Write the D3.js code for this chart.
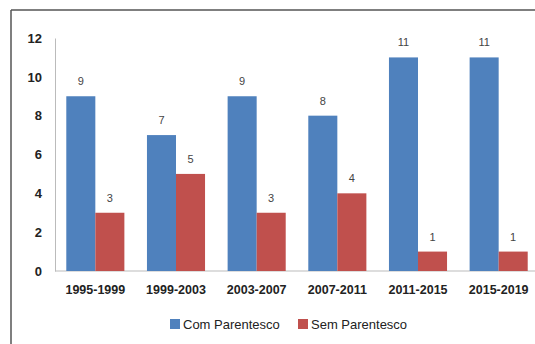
<!DOCTYPE html>
<html>
<head>
<meta charset="utf-8">
<script src="https://cdn.jsdelivr.net/npm/d3@7/dist/d3.min.js"></script>
<style>
  body { margin: 0; background: #fff; }
  svg { display: block; font-family: "Liberation Sans", Arial, sans-serif; }
</style>
</head>
<body>
<svg id="chart" width="535" height="344"></svg>
<script>
var periods = ["1995-1999", "1999-2003", "2003-2007", "2007-2011", "2011-2015", "2015-2019"];
var comParentesco = [9, 7, 9, 8, 11, 11];
var semParentesco = [3, 5, 3, 4, 1, 1];
var seriesNames = ["Com Parentesco", "Sem Parentesco"];
var yTicks = [0, 2, 4, 6, 8, 10, 12];

var color = {
  "Com Parentesco": "#4F81BD",
  "Sem Parentesco": "#C0504D"
};

var svg = d3.select("#chart");

// frame
svg.append("line").attr("x1", 11).attr("x2", 535).attr("y1", 10).attr("y2", 10)
    .attr("stroke", "#555").attr("stroke-width", 1.5);
svg.append("line").attr("x1", 11).attr("x2", 11).attr("y1", 10).attr("y2", 344)
    .attr("stroke", "#555").attr("stroke-width", 1.5);

var xScale = d3.scaleBand().domain(periods).range([55, 539]).paddingInner(0.28).paddingOuter(0.14),
    xSub = d3.scaleBand().domain(seriesNames).range([0, xScale.bandwidth()]),
    yScale = d3.scaleLinear().domain([0, 12]).range([271, 38]);

var data = periods.map(function(p, i) {
  return {period: p, values: [
    {id: "Com Parentesco", v: comParentesco[i]},
    {id: "Sem Parentesco", v: semParentesco[i]}
  ]};
});

// y axis
var yAxis = d3.axisLeft(yScale).tickValues(yTicks).tickSize(0).tickPadding(13);
var gy = svg.append("g").attr("transform", "translate(55,0)").call(yAxis);
gy.select(".domain").attr("stroke", "#bbb");
gy.selectAll(".tick text").attr("font-size", 13).attr("font-weight", "bold")
    .attr("fill", "#222").attr("font-family", "Liberation Sans, Arial, sans-serif");

// x axis
var xAxis = d3.axisBottom(xScale).tickSize(0).tickPadding(14);
var gx = svg.append("g").attr("transform", "translate(0,271)").call(xAxis);
gx.select(".domain").attr("d", "M55,0H535").attr("stroke", "#bbb");
gx.selectAll(".tick text").attr("font-size", 12.5).attr("font-weight", "bold")
    .attr("fill", "#222").attr("font-family", "Liberation Sans, Arial, sans-serif");

// bars
var group = svg.selectAll(".group")
  .data(data)
  .enter().append("g")
    .attr("class", "group")
    .attr("transform", function(d) { return "translate(" + xScale(d.period) + ",0)"; });

group.selectAll("rect")
  .data(function(d) { return d.values; })
  .enter().append("rect")
    .attr("x", function(d) { return xSub(d.id); })
    .attr("y", function(d) { return yScale(d.v); })
    .attr("width", xSub.bandwidth())
    .attr("height", function(d) { return yScale(0) - yScale(d.v); })
    .attr("fill", function(d) { return color[d.id]; });

group.selectAll(".val")
  .data(function(d) { return d.values; })
  .enter().append("text")
    .attr("class", "val")
    .attr("x", function(d) { return xSub(d.id) + xSub.bandwidth() / 2; })
    .attr("y", function(d) { return yScale(d.v) - 11; })
    .attr("text-anchor", "middle")
    .attr("font-size", 11)
    .attr("fill", "#444")
    .text(function(d) { return d.v; });

// legend
var legend = svg.append("g").attr("transform", "translate(0,324)");
var legendX = [170, 298];
seriesNames.forEach(function(name, i) {
  legend.append("rect").attr("x", legendX[i]).attr("y", -5).attr("width", 10).attr("height", 10)
      .attr("fill", color[name]);
  legend.append("text").attr("x", legendX[i] + 13).attr("y", 0).attr("dy", "0.35em")
      .attr("font-size", 13).attr("fill", "#222").text(name);
});
</script>
</body>
</html>
